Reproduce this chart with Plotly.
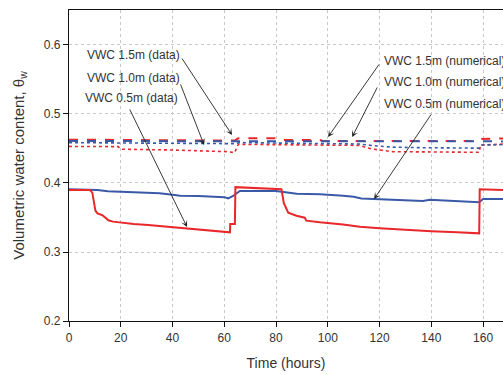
import plotly.graph_objects as go

# Time (hours) and volumetric water content for each sensor depth / model result
t_data05 = [0, 8, 9, 9.6, 10.2, 11, 13, 14, 15.2, 17, 19.7, 25, 30.6, 35, 41, 48, 56.4,
            62.2, 62.3, 64.1, 64.3, 70, 76, 82.1, 83, 84.7, 87.9, 91.1, 91.7, 96.9, 105.9,
            112.4, 120, 130, 140, 150, 158.5, 158.7, 163, 167.7]
vwc_data05 = [0.390, 0.390, 0.386, 0.372, 0.360, 0.356, 0.353, 0.350, 0.346, 0.344, 0.3425,
              0.3405, 0.339, 0.3375, 0.3358, 0.334, 0.331, 0.3285, 0.3405, 0.3405, 0.394,
              0.393, 0.392, 0.391, 0.371, 0.357, 0.3526, 0.3497, 0.3454, 0.343, 0.340, 0.3367,
              0.3345, 0.332, 0.330, 0.3285, 0.327, 0.391, 0.3905, 0.390]

t_num05 = [0, 8, 11, 15, 19, 30, 35, 40, 43, 50, 56, 60, 61.5, 63.4, 66, 80, 88, 97, 106,
           110, 113, 117.5, 125, 132, 136.8, 139.4, 145, 152, 158.5, 160, 167.7]
vwc_num05 = [0.391, 0.391, 0.390, 0.388, 0.3874, 0.386, 0.385, 0.383, 0.3815, 0.381, 0.3807,
             0.3795, 0.3778, 0.3812, 0.3884, 0.3884, 0.3845, 0.3836, 0.3816, 0.380, 0.3775,
             0.3768, 0.3762, 0.3752, 0.374, 0.3758, 0.375, 0.3738, 0.372, 0.3768, 0.3768]

t_data10 = [0, 19, 20, 40, 61, 64, 65.4, 80, 112, 117, 125, 158.5, 159, 167.7]
vwc_data10 = [0.4530, 0.4527, 0.4490, 0.4478, 0.4454, 0.4440, 0.4560, 0.4555, 0.4545,
              0.4493, 0.4454, 0.4445, 0.4550, 0.4563]

t_num10 = [0, 60, 64, 66, 100, 112, 118, 125, 135, 158.5, 159.5, 167.7]
vwc_num10 = [0.4585, 0.4580, 0.4570, 0.4585, 0.4575, 0.4565, 0.4540, 0.4520, 0.4512,
             0.4505, 0.4550, 0.4555]

t_data15 = [0, 30, 64, 65.4, 82, 83, 97, 98, 158, 159.5, 167.7]
vwc_data15 = [0.4628, 0.4625, 0.4614, 0.4647, 0.4647, 0.4623, 0.4623, 0.4609, 0.4609,
              0.4638, 0.4645]

t_num15 = [0, 60, 63, 65, 167.7]
vwc_num15 = [0.4609, 0.4605, 0.4595, 0.4605, 0.4603]

x_ticks = [0, 20, 40, 60, 80, 100, 120, 140, 160]
y_ticks = [0.2, 0.3, 0.4, 0.5, 0.6]

RED = "#e8282b"
BLUE = "#3a5aa8"
TXT = "#333333"

fig = go.Figure()

series = [
    (t_data10, vwc_data10, RED, "dot", 1.6),
    (t_num10, vwc_num10, BLUE, "dot", 1.6),
    (t_data15, vwc_data15, RED, "dash", 2),
    (t_num15, vwc_num15, BLUE, "dash", 2),
    (t_num05, vwc_num05, BLUE, "solid", 2),
    (t_data05, vwc_data05, RED, "solid", 2),
]
for tx, vy, col, dash, w in series:
    fig.add_trace(go.Scatter(x=tx, y=vy, mode="lines",
                             line=dict(color=col, dash=dash, width=w),
                             showlegend=False, hoverinfo="skip"))

# Labels with leader arrows: (text, text x, text y, tail x, tail y, head x, head y)
labels = [
    ("VWC 1.5m (data)", 6.2, 0.5855, 43.3, 0.5826, 63.0, 0.4696),
    ("VWC 1.0m (data)", 6.2, 0.5522, 42.9, 0.5449, 52.2, 0.4551),
    ("VWC 0.5m (data)", 5.4, 0.5232, 23.2, 0.5087, 45.6, 0.3362),
    ("VWC 1.5m (numerical)", 121.0, 0.5768, 120.2, 0.5739, 100.1, 0.4667),
    ("VWC 1.0m (numerical)", 121.0, 0.5464, 119.4, 0.5406, 109.4, 0.4667),
    ("VWC 0.5m (numerical)", 121.0, 0.5145, 140.3, 0.5014, 117.9, 0.3768),
]
for text, tx, ty, ax_, ay_, hx, hy in labels:
    fig.add_annotation(x=tx, y=ty, text=text, showarrow=False, xanchor="left",
                       yanchor="middle", font=dict(size=12, color=TXT,
                                                   family="Liberation Sans, Arial"))
    fig.add_annotation(x=hx, y=hy, ax=ax_, ay=ay_, axref="x", ayref="y", text="",
                       showarrow=True, arrowhead=3, arrowsize=1.2, arrowwidth=0.9,
                       arrowcolor="#222222", standoff=0)

fig.update_layout(
    width=503, height=374,
    margin=dict(l=69, r=0, t=10, b=53),
    paper_bgcolor="white", plot_bgcolor="white",
    font=dict(family="Liberation Sans, Arial", size=12, color=TXT),
)
fig.update_xaxes(
    range=[0, 167.7], tickvals=x_ticks, ticktext=[str(v) for v in x_ticks],
    showline=True, linecolor="#111111", linewidth=1.3, mirror=True,
    ticks="outside", ticklen=5, tickcolor="#111111",
    showgrid=True, gridcolor="#c8c8c8", griddash="dot", gridwidth=1,
    zeroline=False,
    title=dict(text="Time (hours)", font=dict(size=14, color=TXT), standoff=14),
)
fig.update_yaxes(
    range=[0.2, 0.6507], tickvals=y_ticks, ticktext=[f"{v:.1f}" for v in y_ticks],
    showline=True, linecolor="#111111", linewidth=1.3,
    ticks="outside", ticklen=5, tickcolor="#111111",
    showgrid=True, gridcolor="#c8c8c8", griddash="dot", gridwidth=1,
    zeroline=False,
    title=dict(text="Volumetric water content, θ<sub>w</sub>",
               font=dict(size=15, color=TXT), standoff=15),
)

fig.write_html("out.html")
